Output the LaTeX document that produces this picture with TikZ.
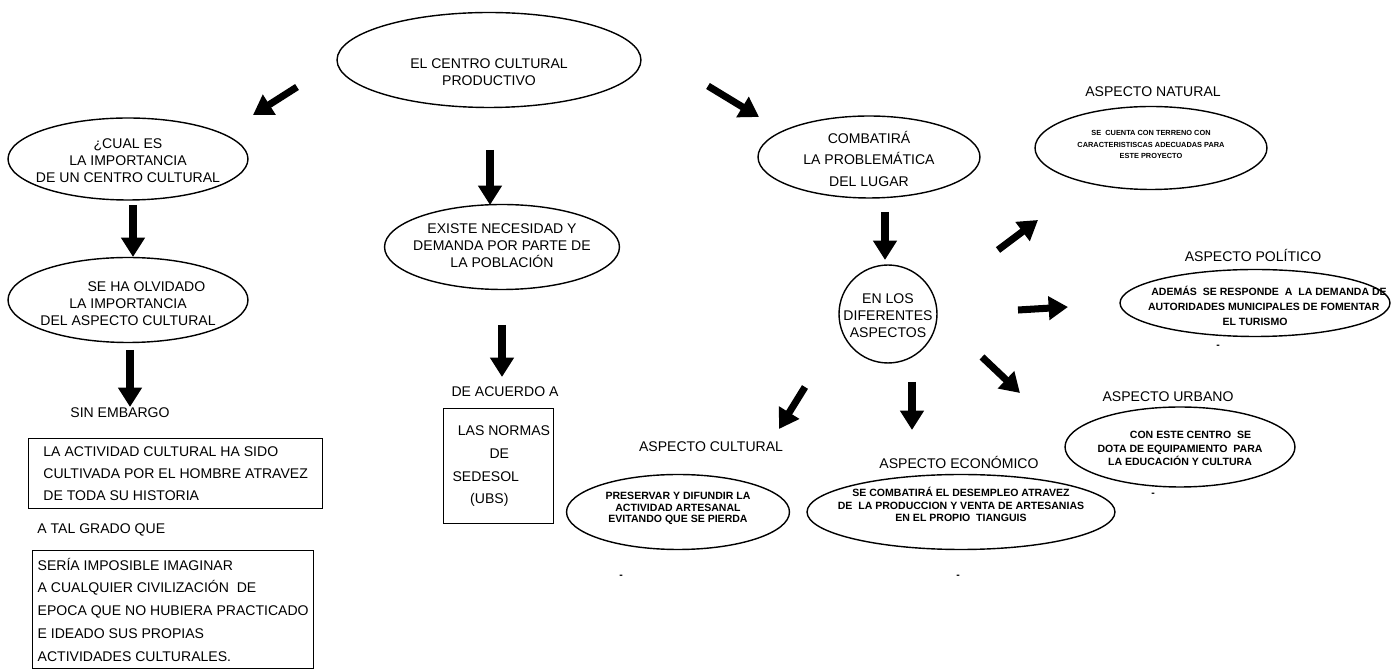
\documentclass[tikz,border=0pt]{standalone}
\usepackage{fontspec}
\setmainfont{Liberation Sans}
\usetikzlibrary{shapes.geometric,arrows.meta}

% text that does not resize the shape round it
\newcommand{\ctext}[2][-4pt]{\makebox[0pt]{\smash{\raisebox{#1}{\begin{tabular}{@{}c@{}}#2\end{tabular}}}}}

\begin{document}
\begin{tikzpicture}[x=0.02cm, y=-0.02cm,
    every node/.style={inner sep=0pt, font=\fontsize{8}{9.7}\selectfont},
    bubble/.style 2 args={ellipse, draw, line width=0.8pt, minimum width=#1, minimum height=#2},
    box/.style={draw, line width=0.8pt, anchor=north west, align=left},
    small/.style={font=\fontsize{6}{7.3}\selectfont\bfseries},
    tiny/.style={font=\fontsize{4.2}{6.5}\selectfont\bfseries},
    bigarrow/.style={line width=4pt, -{Triangle[width=13pt,length=11pt]}}]
    \useasboundingbox (0,0) rectangle (1393,671);

    % top
    \node[bubble={6.08cm}{1.9cm}] (centro) at (489,60) {\ctext[-9.5pt]{EL CENTRO CULTURAL\\PRODUCTIVO}};

    % left column
    \node[bubble={4.8cm}{1.64cm}] (cual) at (128,159) {\ctext{¿CUAL ES\\LA IMPORTANCIA\\DE UN CENTRO CULTURAL}};
    \node[bubble={4.8cm}{1.7cm}] (olvido) at (128,300) {\ctext[-5pt]{\hspace*{21pt}SE HA OLVIDADO\\LA IMPORTANCIA\\DEL ASPECTO CULTURAL}};
    \node (embargo) at (120,413) {SIN EMBARGO};
    \node[box, minimum width=5.88cm, minimum height=1.4cm, font=\fontsize{8}{12.5}\selectfont] (historia) at (28,438)
        {LA ACTIVIDAD CULTURAL HA SIDO\\CULTIVADA POR EL HOMBRE ATRAVEZ\\DE TODA SU HISTORIA};
    \node[anchor=west] (grado) at (37,530) {A TAL GRADO QUE};
    \node[box, minimum width=5.62cm, minimum height=2.36cm, font=\fontsize{8}{13}\selectfont] (imposible) at (32,550)
        {SERÍA IMPOSIBLE IMAGINAR\\A CUALQUIER CIVILIZACIÓN~ DE\\EPOCA QUE NO HUBIERA PRACTICADO\\E IDEADO SUS PROPIAS\\ACTIVIDADES CULTURALES.};

    % centre column
    \node[bubble={4.7cm}{1.7cm}] (existe) at (502,247) {\ctext[-2pt]{EXISTE NECESIDAD Y\\DEMANDA POR PARTE DE\\LA POBLACIÓN}};
    \node (acuerdo) at (505,392) {DE ACUERDO A};
    \node[box, minimum width=2.2cm, minimum height=2.3cm, font=\fontsize{8}{13}\selectfont] (normas) at (443,408)
        {\hspace*{6pt}LAS NORMAS\\\hspace*{24pt}DE\\\hspace*{3pt}SEDESOL\\\hspace*{13pt}(UBS)};

    % right part
    \node[bubble={4.44cm}{1.64cm}, font=\fontsize{8}{12.2}\selectfont] (combate) at (869,157) {\ctext{COMBATIRÁ\\LA PROBLEMÁTICA\\DEL LUGAR}};
    \node[circle, draw, line width=0.8pt, minimum size=1.96cm] (aspectos) at (888,314) {\ctext{EN LOS\\DIFERENTES\\ASPECTOS}};

    \node (tnatural) at (1153,92) {ASPECTO NATURAL};
    \node[bubble={4.64cm}{1.66cm}, tiny] (natural) at (1151,148) {\ctext[0.6pt]{SE~ CUENTA CON TERRENO CON\\CARACTERISTISCAS ADECUADAS PARA\\ESTE PROYECTO}};

    \node (tpolitico) at (1253,255) {ASPECTO POLÍTICO};
    \node[bubble={5.4cm}{1.34cm}, small, font=\fontsize{6}{8.5}\selectfont\bfseries] (politico) at (1255,303) {\ctext[-4.3pt]{\hspace*{16pt}ADEMÁS~ SE RESPONDE~ A~ LA DEMANDA DE\\\hspace*{10pt}AUTORIDADES MUNICIPALES DE FOMENTAR\\EL TURISMO}};
    \node[small] (ppolitico) at (1218,347) {-};

    \node (turbano) at (1168,397) {ASPECTO URBANO};
    \node[bubble={4.6cm}{1.6cm}, small, font=\fontsize{6}{7.7}\selectfont\bfseries] (urbano) at (1180,447) {\ctext[-3pt]{\hspace*{12pt}CON ESTE CENTRO~ SE\\DOTA DE EQUIPAMIENTO~ PARA\\LA EDUCACIÓN Y CULTURA}};
    \node[small] (purbano) at (1153,495) {-};

    \node (teconomico) at (959,462) {ASPECTO ECONÓMICO};
    \node[bubble={6.16cm}{1.5cm}, small] (economico) at (961,512) {\ctext[1.7pt]{SE COMBATIRÁ EL DESEMPLEO ATRAVEZ\\DE~ LA PRODUCCION Y VENTA DE ARTESANIAS\\EN EL PROPIO~ TIANGUIS}};
    \node[small] (peconomico) at (958,577) {-};

    \node (tcultural) at (711,447) {ASPECTO CULTURAL};
    \node[bubble={4.46cm}{1.5cm}, small, font=\fontsize{6}{6.5}\selectfont\bfseries] (cultural) at (678,512) {\ctext[0.2pt]{PRESERVAR Y DIFUNDIR LA\\ACTIVIDAD ARTESANAL\\EVITANDO QUE SE PIERDA}};
    \node[small] (pcultural) at (621,577) {-};

    % arrow ends
    \coordinate (c0) at (297,87);   \coordinate (c1) at (253,115);
    \coordinate (c2) at (490,150);  \coordinate (c3) at (490,205);
    \coordinate (c4) at (708,86);   \coordinate (c5) at (759,117);
    \coordinate (q0) at (133,205);  \coordinate (q1) at (133,257);
    \coordinate (q2) at (130,350);  \coordinate (q3) at (130,407);
    \coordinate (e0) at (502,325);  \coordinate (e1) at (502,377);
    \coordinate (b0) at (885,212);  \coordinate (b1) at (885,260);
    \coordinate (s0) at (998,250);  \coordinate (s1) at (1038,220);
    \coordinate (s2) at (1018,310); \coordinate (s3) at (1068,307);
    \coordinate (s4) at (982,357);  \coordinate (s5) at (1020,393);
    \coordinate (s6) at (912,382);  \coordinate (s7) at (912,430);
    \coordinate (s8) at (805,387);  \coordinate (s9) at (779,429);

    \draw[bigarrow] (c0) -- (c1);
    \draw[bigarrow] (c2) -- (c3);
    \draw[bigarrow] (c4) -- (c5);
    \draw[bigarrow] (q0) -- (q1);
    \draw[bigarrow] (q2) -- (q3);
    \draw[bigarrow] (e0) -- (e1);
    \draw[bigarrow] (b0) -- (b1);
    \draw[bigarrow] (s0) -- (s1);
    \draw[bigarrow] (s2) -- (s3);
    \draw[bigarrow] (s4) -- (s5);
    \draw[bigarrow] (s6) -- (s7);
    \draw[bigarrow] (s8) -- (s9);
\end{tikzpicture}
\end{document}
